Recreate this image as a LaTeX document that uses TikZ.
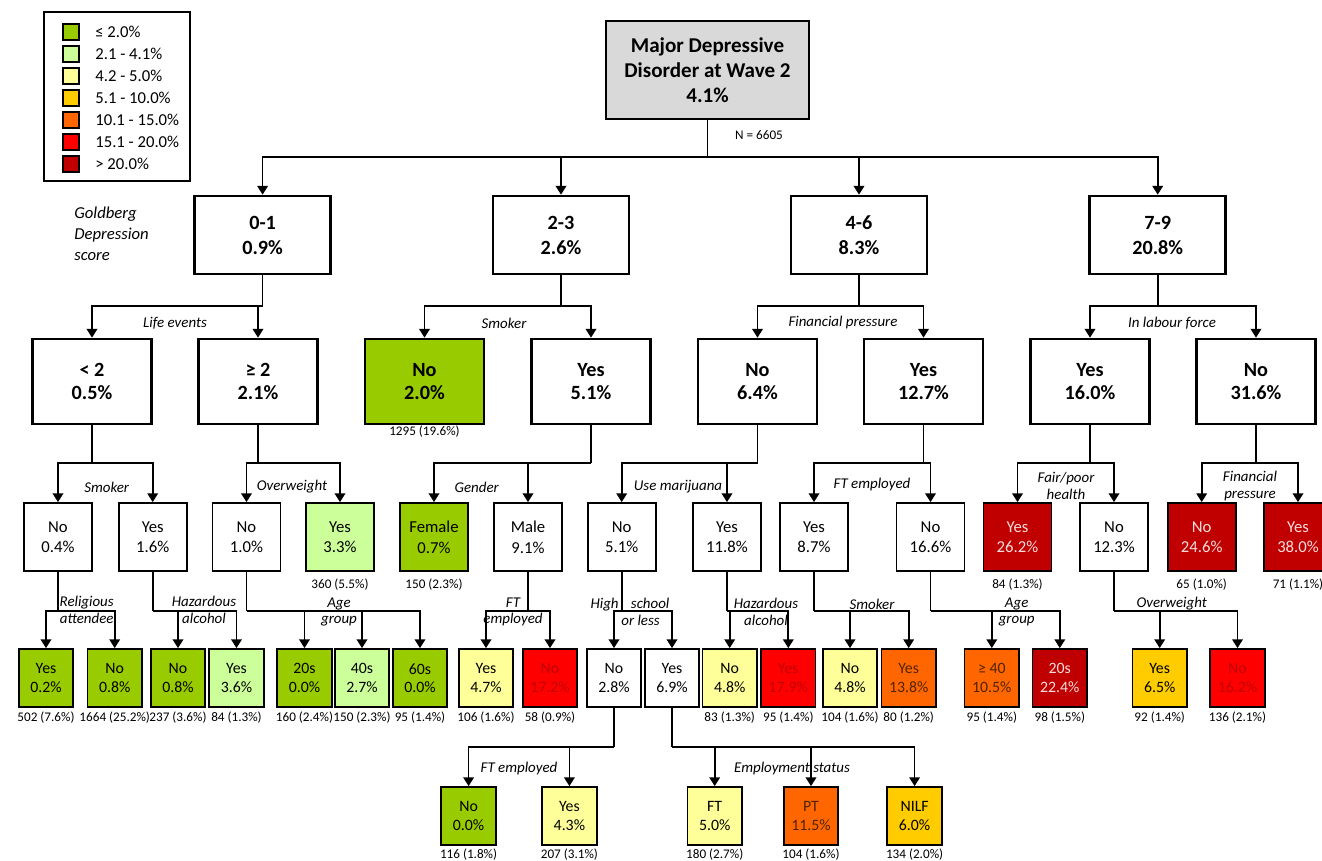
\documentclass[tikz,border=0pt]{standalone}
\usepackage{fontspec}
\setmainfont{Carlito}
\usetikzlibrary{arrows.meta,positioning}

\definecolor{bandA}{RGB}{153,204,0}
\definecolor{bandB}{RGB}{204,255,153}
\definecolor{bandC}{RGB}{255,255,153}
\definecolor{bandD}{RGB}{255,204,0}
\definecolor{bandE}{RGB}{255,102,0}
\definecolor{bandF}{RGB}{255,0,0}
\definecolor{bandG}{RGB}{192,0,0}
\definecolor{rootgrey}{RGB}{217,217,217}
\definecolor{paletxt}{RGB}{246,222,222}
\definecolor{browntxt}{RGB}{80,35,0}

\tikzset{
  rootbox/.style={draw, line width=1.5pt, fill=rootgrey, minimum width=4.06cm, minimum height=1.96cm,
    inner sep=0pt, align=center, font=\fontsize{12}{14.2}\selectfont\bfseries},
  scorebox/.style={draw, line width=1.5pt, fill=white, minimum width=2.72cm, minimum height=1.56cm,
    inner sep=0pt, align=center, font=\fontsize{11.5}{14.2}\selectfont\bfseries},
  splitbox/.style={draw, line width=1.5pt, fill=white, minimum width=2.38cm, minimum height=1.7cm,
    inner sep=0pt, align=center, font=\fontsize{11.5}{13.6}\selectfont\bfseries},
  leafbox/.style={draw, line width=1pt, fill=white, minimum width=1.36cm, minimum height=1.36cm,
    inner sep=0pt, align=center, font=\fontsize{9.5}{11.7}\selectfont},
  smallbox/.style={draw, line width=1pt, fill=white, minimum width=1.09cm, minimum height=1.16cm,
    inner sep=0pt, align=center, font=\fontsize{9}{10.4}\selectfont},
  cut/.style={inner sep=0pt, align=center, font=\fontsize{8.5}{9.5}\selectfont\itshape},
  cnt/.style={inner sep=0pt, font=\fontsize{7.5}{9}\selectfont},
  swatch/.style={draw, line width=0.8pt, minimum size=0.32cm, inner sep=0pt},
  conn/.style={line width=1pt},
  arr/.style={conn, -{Triangle[length=5pt,width=6pt]}},
  hot/.style={text=bandG},
  dark/.style={text=paletxt},
  warm/.style={text=browntxt}
}

\begin{document}
\begin{tikzpicture}[x=0.02cm,y=-0.02cm]
\useasboundingbox (0,0) rectangle (1322,861);

% legend
\draw[line width=0.9pt] (44,12) rectangle (190,181);
\foreach \c/\t [count=\i from 0] in {bandA/{≤ 2.0\%}, bandB/{2.1 - 4.1\%}, bandC/{4.2 - 5.0\%},
    bandD/{5.1 - 10.0\%}, bandE/{10.1 - 15.0\%}, bandF/{15.1 - 20.0\%}, bandG/{> 20.0\%}}{
  \node[swatch, fill=\c] (sw\i) at (71,{32+22*\i}) {};
  \node[anchor=west, inner sep=0pt, font=\fontsize{9.5}{11}\selectfont] (lg\i) at (95,{32+22*\i}) {\t};
}

\node[rootbox] (root) at (707.5,70) {Major Depressive\\Disorder at Wave 2\\4.1\%};
\node[cnt] (nall) at (759,135) {N = 6605};

\node[scorebox] (s01) at (262.6,235) {0-1\\0.9\%};
\node[scorebox] (s23) at (561,235) {2-3\\2.6\%};
\node[scorebox] (s46) at (859,235) {4-6\\8.3\%};
\node[scorebox] (s79) at (1157.7,235) {7-9\\20.8\%};
\node[cut, align=left, anchor=west, font=\fontsize{9.5}{12}\selectfont\itshape] (gold) at (74,234) {Goldberg\\Depression\\score};

\node[splitbox] (lt2) at (92,381.5) {< 2\\0.5\%};
\node[splitbox] (ge2) at (258,381.5) {≥ 2\\2.1\%};
\node[splitbox, fill=bandA] (smkNo) at (424.5,381.5) {No\\2.0\%};
\node[splitbox] (smkYes) at (591,381.5) {Yes\\5.1\%};
\node[splitbox] (finNo) at (757.5,381.5) {No\\6.4\%};
\node[splitbox] (finYes) at (923.5,381.5) {Yes\\12.7\%};
\node[splitbox] (labYes) at (1090,381.5) {Yes\\16.0\%};
\node[splitbox] (labNo) at (1256,381.5) {No\\31.6\%};
\node[cnt, below=0pt of smkNo] (nsmkNo) {1295 (19.6\%)};

\node[cut] (tLife) at (175,323) {Life events};
\node[cut] (tSmk) at (504,323) {Smoker};
\node[cut] (tFin) at (843,323) {Financial pressure};
\node[cut] (tLab) at (1172,323) {In labour force};

\node[leafbox] (lt2No) at (58,537) {No\\0.4\%};
\node[leafbox] (lt2Yes) at (152.7,537) {Yes\\1.6\%};
\node[leafbox] (ge2No) at (246.5,537) {No\\1.0\%};
\node[leafbox, fill=bandB] (ge2Yes) at (340,537) {Yes\\3.3\%};
\node[leafbox, fill=bandA] (fem) at (434,537) {Female\\0.7\%};
\node[leafbox] (male) at (528,537) {Male\\9.1\%};
\node[leafbox] (marNo) at (621.7,537) {No\\5.1\%};
\node[leafbox] (marYes) at (727,537) {Yes\\11.8\%};
\node[leafbox] (ftYes) at (814,537) {Yes\\8.7\%};
\node[leafbox] (ftNo) at (930.5,537) {No\\16.6\%};
\node[leafbox, fill=bandG, dark] (hlthYes) at (1017.5,537) {Yes\\26.2\%};
\node[leafbox] (hlthNo) at (1114,537) {No\\12.3\%};
\node[leafbox, fill=bandG, dark] (fpNo) at (1201.7,537) {No\\24.6\%};
\node[leafbox, fill=bandG, dark] (fpYes) at (1298,537) {Yes\\38.0\%};
\node[cnt, below=3.5pt of ge2Yes] (nge2Yes) {360 (5.5\%)};
\node[cnt, below=3.5pt of fem] (nfem) {150 (2.3\%)};
\node[cnt, below=3.5pt of hlthYes] (nhlthYes) {84 (1.3\%)};
\node[cnt, below=3.5pt of fpNo] (nfpNo) {65 (1.0\%)};
\node[cnt, below=3.5pt of fpYes] (nfpYes) {71 (1.1\%)};

\node[cut] (tSmk2) at (106.7,487) {Smoker};
\node[cut] (tOw) at (292,487) {Overweight};
\node[cut] (tGen) at (476.7,487) {Gender};
\node[cut] (tMar) at (678,487) {Use marijuana};
\node[cut] (tFt) at (872,485) {FT employed};
\node[cut] (tHlth) at (1066,486) {Fair/poor\\health};
\node[cut] (tFp) at (1250,486) {Financial\\pressure};

\node[smallbox, fill=bandA] (relYes) at (46,678) {Yes\\0.2\%};
\node[smallbox, fill=bandA] (relNo) at (114.7,678) {No\\0.8\%};
\node[smallbox, fill=bandA] (alcNo) at (178,678) {No\\0.8\%};
\node[smallbox, fill=bandB] (alcYes) at (236.5,678) {Yes\\3.6\%};
\node[smallbox, fill=bandA] (age20) at (304.5,678) {20s\\0.0\%};
\node[smallbox, fill=bandB] (age40) at (362,678) {40s\\2.7\%};
\node[smallbox, fill=bandA] (age60) at (420,678) {60s\\0.0\%};
\node[smallbox, fill=bandC] (mftYes) at (486,678) {Yes\\4.7\%};
\node[smallbox, fill=bandF, hot] (mftNo) at (550,678) {No\\17.2\%};
\node[smallbox] (hsNo) at (614,678) {No\\2.8\%};
\node[smallbox] (hsYes) at (672,678) {Yes\\6.9\%};
\node[smallbox, fill=bandC] (malcNo) at (729.7,678) {No\\4.8\%};
\node[smallbox, fill=bandF, hot] (malcYes) at (788.3,678) {Yes\\17.9\%};
\node[smallbox, fill=bandC] (smNo) at (850,678) {No\\4.8\%};
\node[smallbox, fill=bandE, warm] (smYes) at (908.7,678) {Yes\\13.8\%};
\node[smallbox, fill=bandE, warm] (ageOld) at (991.8,678) {≥ 40\\10.5\%};
\node[smallbox, fill=bandG, dark] (ageYng) at (1059.8,678) {20s\\22.4\%};
\node[smallbox, fill=bandD] (owYes) at (1159.7,678) {Yes\\6.5\%};
\node[smallbox, fill=bandF, hot] (owNo) at (1237.5,678) {No\\16.2\%};

\node[cnt, below=2pt of relYes] (nrelYes) {502 (7.6\%)};
\node[cnt, below=2pt of relNo] (nrelNo) {1664 (25.2\%)};
\node[cnt, below=2pt of alcNo] (nalcNo) {237 (3.6\%)};
\node[cnt, below=2pt of alcYes] (nalcYes) {84 (1.3\%)};
\node[cnt, below=2pt of age20] (nage20) {160 (2.4\%)};
\node[cnt, below=2pt of age40] (nage40) {150 (2.3\%)};
\node[cnt, below=2pt of age60] (nage60) {95 (1.4\%)};
\node[cnt, below=2pt of mftYes] (nmftYes) {106 (1.6\%)};
\node[cnt, below=2pt of mftNo] (nmftNo) {58 (0.9\%)};
\node[cnt, below=2pt of malcNo] (nmalcNo) {83 (1.3\%)};
\node[cnt, below=2pt of malcYes] (nmalcYes) {95 (1.4\%)};
\node[cnt, below=2pt of smNo] (nsmNo) {104 (1.6\%)};
\node[cnt, below=2pt of smYes] (nsmYes) {80 (1.2\%)};
\node[cnt, below=2pt of ageOld] (nageOld) {95 (1.4\%)};
\node[cnt, below=2pt of ageYng] (nageYng) {98 (1.5\%)};
\node[cnt, below=2pt of owYes] (nowYes) {92 (1.4\%)};
\node[cnt, below=2pt of owNo] (nowNo) {136 (2.1\%)};

\node[cut] (tRel) at (86.7,610) {Religious\\attendee};
\node[cut] (tAlc) at (204,610) {Hazardous\\alcohol};
\node[cut] (tAge) at (339,612) {Age\\group};
\node[cut] (tMft) at (513,612) {FT\\employed};
\node[cut] (tHs) at (630,612) {High\hspace{7pt}school\\\hspace{12pt}or less};
\node[cut] (tMalc) at (766,612) {Hazardous\\alcohol};
\node[cut] (tSm) at (872,604) {Smoker};
\node[cut] (tAge2) at (1016.7,612) {Age\\group};
\node[cut] (tOw2) at (1171.7,604) {Overweight};

\node[smallbox, fill=bandA] (eftNo) at (468.6,816) {No\\0.0\%};
\node[smallbox, fill=bandC] (eftYes) at (569.4,816) {Yes\\4.3\%};
\node[smallbox, fill=bandC] (empFT) at (714.7,816) {FT\\5.0\%};
\node[smallbox, fill=bandE, warm] (empPT) at (811,816) {PT\\11.5\%};
\node[smallbox, fill=bandD] (empNI) at (914.6,816) {NILF\\6.0\%};
\node[cnt, below=1.4pt of eftNo] (neftNo) {116 (1.8\%)};
\node[cnt, below=1.4pt of eftYes] (neftYes) {207 (3.1\%)};
\node[cnt, below=1.4pt of empFT] (nempFT) {180 (2.7\%)};
\node[cnt, below=1.4pt of empPT] (nempPT) {104 (1.6\%)};
\node[cnt, below=1.4pt of empNI] (nempNI) {134 (2.0\%)};
\node[cut] (tEft) at (519,769) {FT employed};
\node[cut] (tEmp) at (792,769) {Employment status};

% root split
\coordinate (jRoot) at (707.5,157);
\draw[conn] (root.south) -- (jRoot);
\foreach \n in {s01,s23,s46,s79} \draw[arr] (jRoot) -| (\n.north);

% score splits
\coordinate (j01) at (262.6,306);
\coordinate (j23) at (561,306);
\coordinate (j46) at (859,306);
\coordinate (j79) at (1157.7,306);
\draw[conn] (s01.south) -- (j01);
\draw[conn] (s23.south) -- (j23);
\draw[conn] (s46.south) -- (j46);
\draw[conn] (s79.south) -- (j79);
\draw[arr] (j01) -| (lt2.north);
\draw[arr] (j01) -| (ge2.north);
\draw[arr] (j23) -| (smkNo.north);
\draw[arr] (j23) -| (smkYes.north);
\draw[arr] (j46) -| (finNo.north);
\draw[arr] (j46) -| (finYes.north);
\draw[arr] (j79) -| (labYes.north);
\draw[arr] (j79) -| (labNo.north);

% third level
\coordinate (jLt2) at (92,463);
\coordinate (jGe2) at (258,463);
\coordinate (jSmk) at (591,463);
\coordinate (jFinNo) at (757.5,463);
\coordinate (jFinYes) at (923.5,463);
\coordinate (jLabYes) at (1090,463);
\coordinate (jLabNo) at (1256,463);
\draw[conn] (lt2.south) -- (jLt2);
\draw[conn] (ge2.south) -- (jGe2);
\draw[conn] (smkYes.south) -- (jSmk);
\draw[conn] (finNo.south) -- (jFinNo);
\draw[conn] (finYes.south) -- (jFinYes);
\draw[conn] (labYes.south) -- (jLabYes);
\draw[conn] (labNo.south) -- (jLabNo);
\draw[arr] (jLt2) -| (lt2No.north);
\draw[arr] (jLt2) -| (lt2Yes.north);
\draw[arr] (jGe2) -| (ge2No.north);
\draw[arr] (jGe2) -| (ge2Yes.north);
\draw[arr] (jSmk) -| (fem.north);
\draw[arr] (jSmk) -| (male.north);
\draw[arr] (jFinNo) -| (marNo.north);
\draw[arr] (jFinNo) -| (marYes.north);
\draw[arr] (jFinYes) -| (ftYes.north);
\draw[arr] (jFinYes) -| (ftNo.north);
\draw[arr] (jLabYes) -| (hlthYes.north);
\draw[arr] (jLabYes) -| (hlthNo.north);
\draw[arr] (jLabNo) -| (fpNo.north);
\draw[arr] (jLabNo) -| (fpYes.north);

% fourth level
\coordinate (jRel) at (58,611);
\coordinate (jAlc) at (152.7,611);
\coordinate (jAge) at (246.5,611);
\coordinate (jMft) at (528,611);
\coordinate (jHs) at (621.7,611);
\coordinate (jMalc) at (727,611);
\coordinate (jSm) at (814,611);
\coordinate (jAge2) at (930.5,611);
\coordinate (jOw) at (1114,611);
\draw[conn] (lt2No.south) -- (jRel);
\draw[conn] (lt2Yes.south) -- (jAlc);
\draw[conn] (ge2No.south) -- (jAge);
\draw[conn] (male.south) -- (jMft);
\draw[conn] (marNo.south) -- (jHs);
\draw[conn] (marYes.south) -- (jMalc);
\draw[conn] (ftYes.south) -- (jSm);
\draw[conn] (ftNo.south) -- (jAge2);
\draw[conn] (hlthNo.south) -- (jOw);
\draw[arr] (jRel) -| (relYes.north);
\draw[arr] (jRel) -| (relNo.north);
\draw[arr] (jAlc) -| (alcNo.north);
\draw[arr] (jAlc) -| (alcYes.north);
\draw[arr] (jAge) -| (age20.north);
\draw[arr] (jAge) -| (age40.north);
\draw[arr] (jAge) -| (age60.north);
\draw[arr] (jMft) -| (mftYes.north);
\draw[arr] (jMft) -| (mftNo.north);
\draw[arr] (jHs) -| (hsNo.north);
\draw[arr] (jHs) -| (hsYes.north);
\draw[arr] (jMalc) -| (malcNo.north);
\draw[arr] (jMalc) -| (malcYes.north);
\draw[arr] (jSm) -| (smNo.north);
\draw[arr] (jSm) -| (smYes.north);
\draw[arr] (jAge2) -| (ageOld.north);
\draw[arr] (jAge2) -| (ageYng.north);
\draw[arr] (jOw) -| (owYes.north);
\draw[arr] (jOw) -| (owNo.north);

% fifth level
\coordinate (jEft) at (614,746.7);
\coordinate (jEmp) at (672,746.7);
\draw[conn] (hsNo.south) -- (jEft);
\draw[conn] (hsYes.south) -- (jEmp);
\draw[arr] (jEft) -| (eftNo.north);
\draw[arr] (jEft) -| (eftYes.north);
\draw[arr] (jEmp) -| (empFT.north);
\draw[arr] (jEmp) -| (empPT.north);
\draw[arr] (jEmp) -| (empNI.north);
\end{tikzpicture}
\end{document}
